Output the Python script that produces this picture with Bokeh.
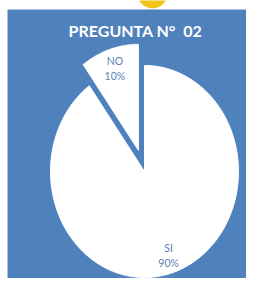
import numpy as np
from bokeh.plotting import figure
from bokeh.models import Range1d
from bokeh.core.properties import value
from bokeh.embed import file_html
from bokeh.resources import INLINE

# data
title_text = "PREGUNTA N°\u00a0\u00a002"
categories = ["SI", "NO"]
percents = [90, 10]
pct_labels = ["90%", "10%"]
exploded = [False, True]
label_radius = [0.83, 0.81]

W, H = 246, 278
BLUE = "#4f81bd"
LABEL_COLOR = "#5b80b6"
cx, cy = 144, 171
rx, ry = 94, 106
explode = 0.21

p = figure(width=W, height=H, output_backend="svg", toolbar_location=None,
           x_range=Range1d(0, W), y_range=Range1d(H, 0), min_border=0)
p.axis.visible = False
p.grid.visible = False
p.outline_line_color = None
p.background_fill_color = "white"
p.border_fill_color = "white"

# blue panel and the yellow badge above it
p.quad(left=[7], right=[W + 5], top=[9], bottom=[H + 5], fill_color=BLUE,
       line_color=None)
p.ellipse(x=[152], y=[-7], width=30, height=30, fill_color="#f2c31a",
          line_color=None)

total = float(sum(percents))
start = 0.0
xs, ys, lx, ly, ltxt = [], [], [], [], []
for cat, v, lab, ex, lr in zip(categories, percents, pct_labels, exploded, label_radius):
    sweep = 2 * np.pi * v / total
    t = np.linspace(start, start + sweep, 160)
    mid = start + sweep / 2
    ox = explode * rx * np.sin(mid) if ex else 0.0
    oy = -explode * ry * np.cos(mid) if ex else 0.0
    px = [cx + ox] + list(cx + ox + rx * np.sin(t))
    py = [cy + oy] + list(cy + oy - ry * np.cos(t))
    xs.append(px)
    ys.append(py)
    lx.append(cx + ox + lr * rx * np.sin(mid))
    ly.append(cy + oy - lr * ry * np.cos(mid))
    ltxt.append((cat, lab))
    start += sweep

p.patches(xs=xs, ys=ys, fill_color="white", line_color="white", line_width=1)

for (cat, lab), x, y in zip(ltxt, lx, ly):
    p.text(x=[x], y=[y - 7.5], text=[cat], text_font=value("Lato"),
           text_font_size="10.5px", text_color=LABEL_COLOR, text_align="center",
           text_baseline="middle")
    p.text(x=[x], y=[y + 7.5], text=[lab], text_font=value("Lato"),
           text_font_size="10.5px", text_color=LABEL_COLOR, text_align="center",
           text_baseline="middle")

p.text(x=[135], y=[30], text=[title_text], text_font=value("Lato"),
       text_font_size="16px", text_font_style="bold", text_color="white",
       text_align="center", text_baseline="middle")

open("out.html", "w").write(file_html(p, INLINE))
